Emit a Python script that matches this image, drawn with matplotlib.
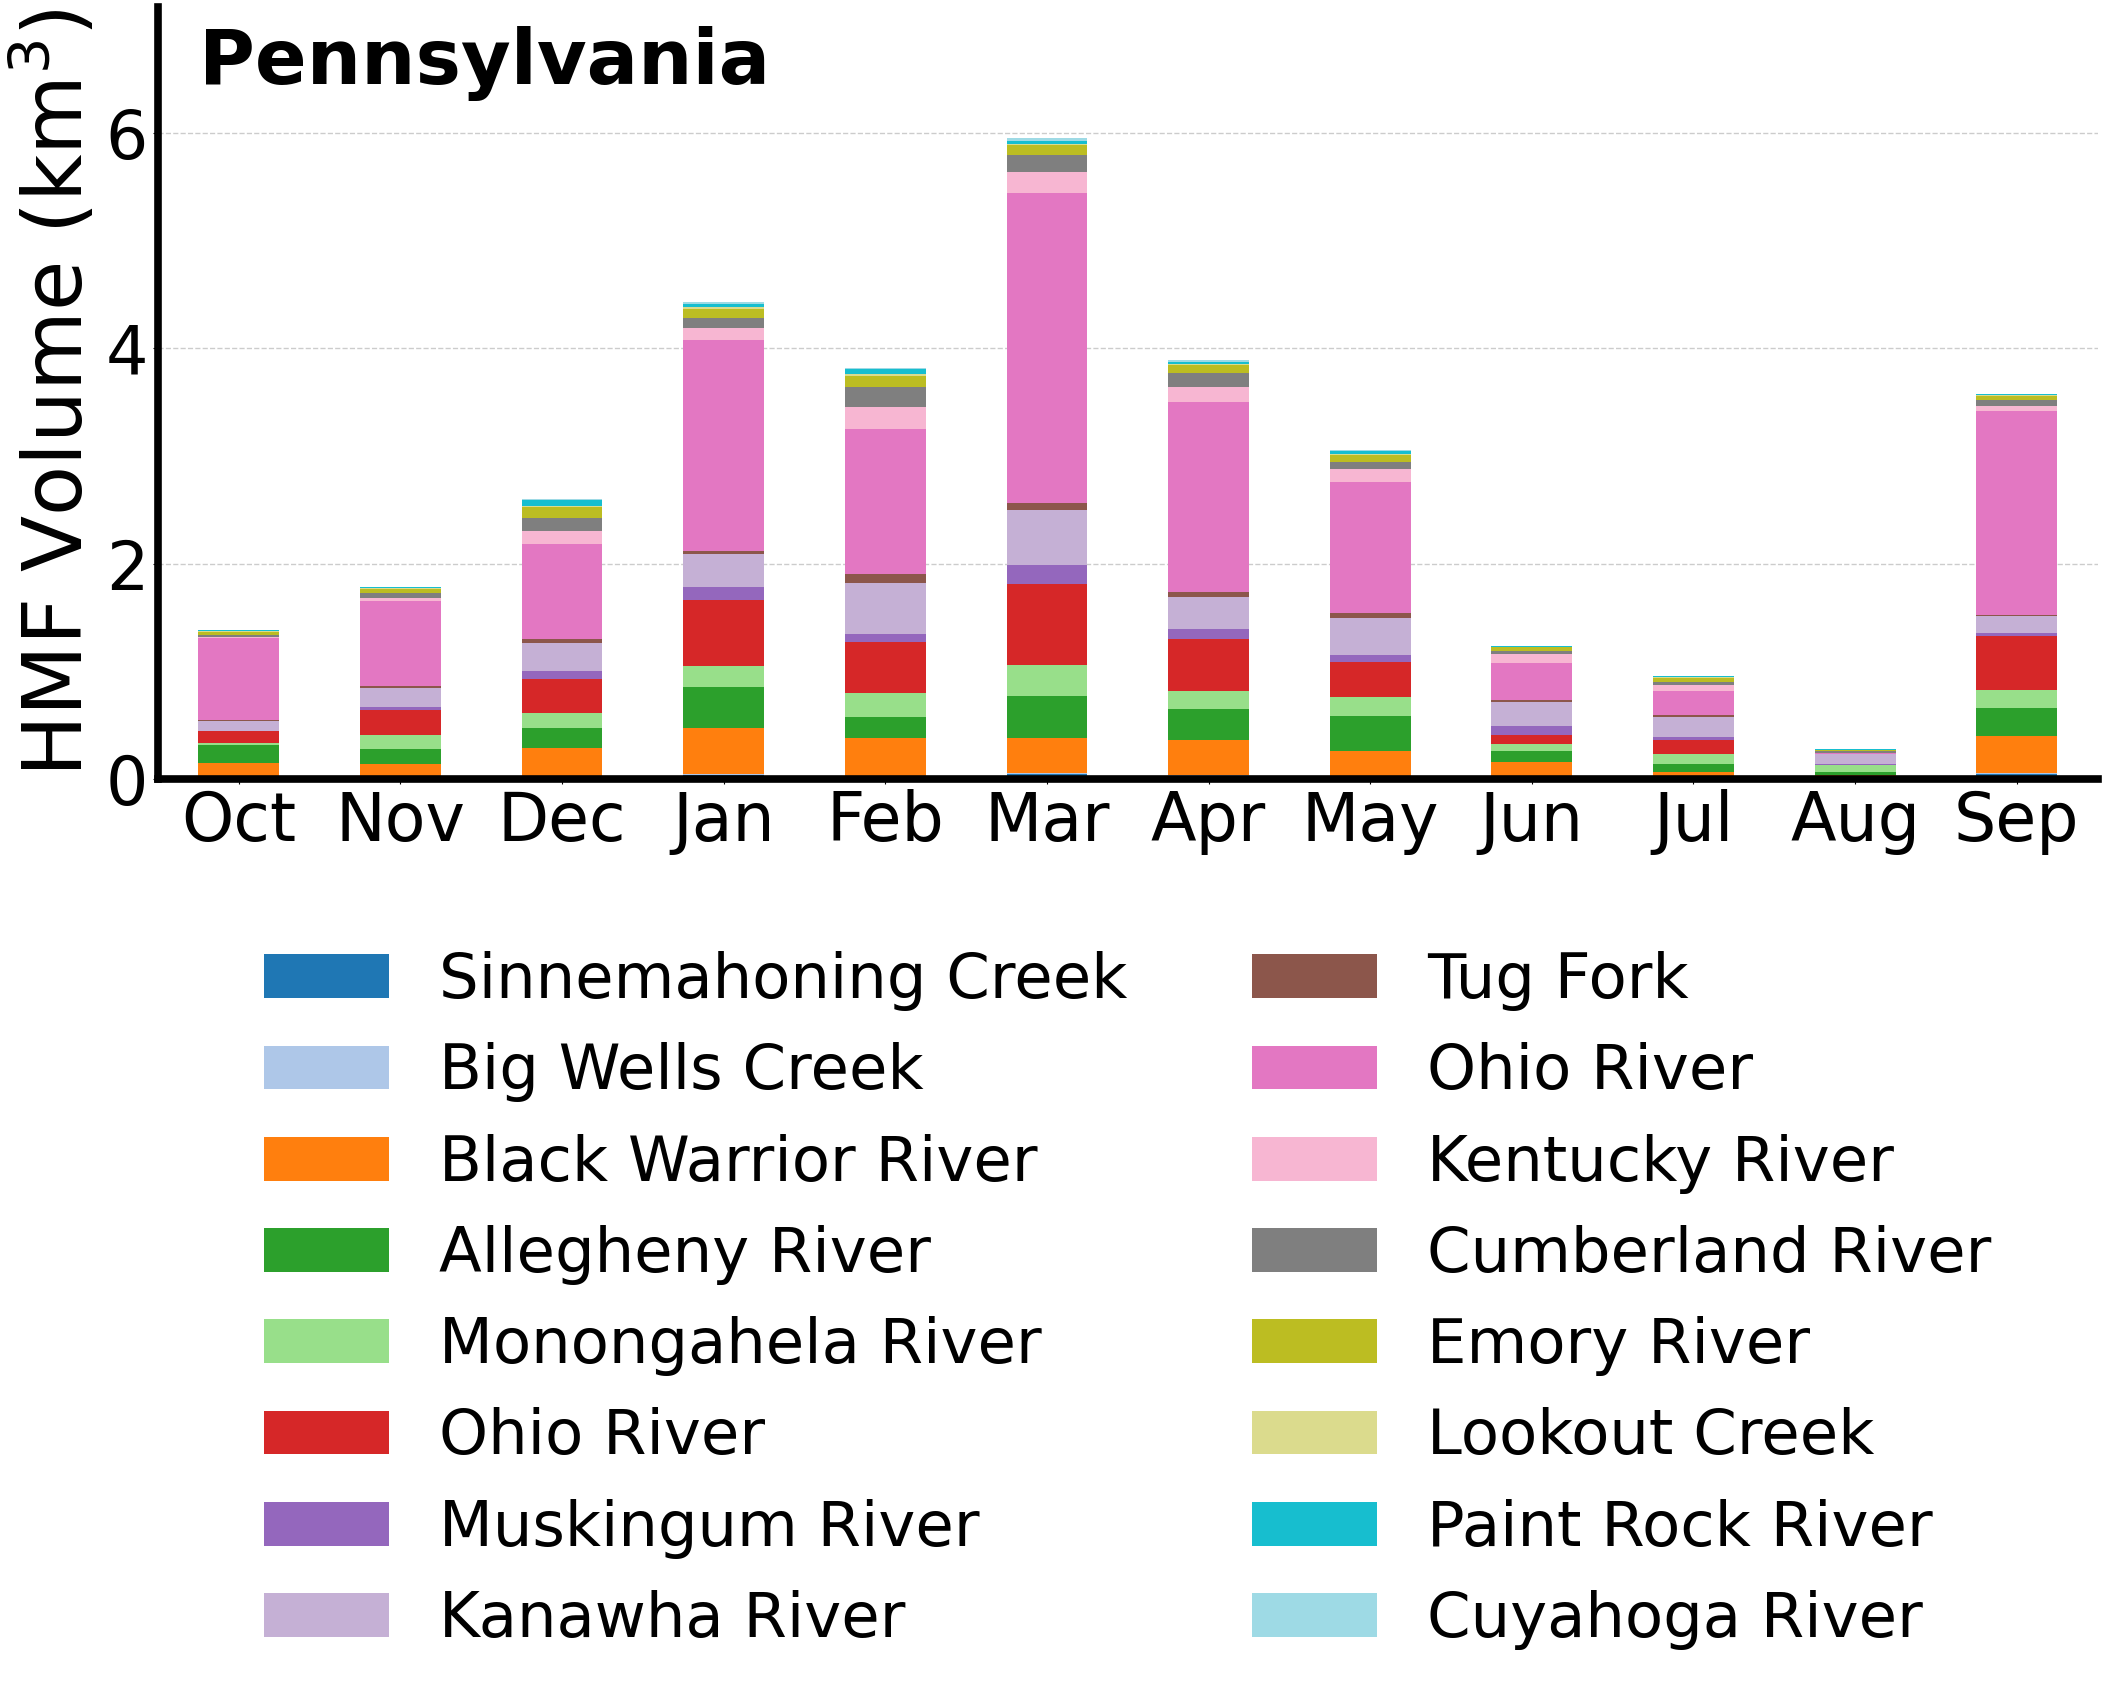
import numpy as np
import matplotlib
matplotlib.use("Agg")
import matplotlib.pyplot as plt

months = ["Oct", "Nov", "Dec", "Jan", "Feb", "Mar", "Apr", "May", "Jun", "Jul", "Aug", "Sep"]

series_names = [
    "Sinnemahoning Creek", "Big Wells Creek", "Black Warrior River", "Allegheny River",
    "Monongahela River", "Ohio River", "Muskingum River", "Kanawha River",
    "Tug Fork", "Ohio River", "Kentucky River", "Cumberland River",
    "Emory River", "Lookout Creek", "Paint Rock River", "Cuyahoga River",
]

sinnemahoning = [0.005, 0.005, 0.010, 0.035, 0.020, 0.050, 0.030, 0.020, 0.010, 0.005, 0.003, 0.050]
big_wells     = [0.002, 0.002, 0.003, 0.010, 0.005, 0.010, 0.005, 0.003, 0.002, 0.001, 0.001, 0.007]
black_warrior = [0.140, 0.130, 0.270, 0.430, 0.360, 0.320, 0.325, 0.240, 0.148, 0.060, 0.035, 0.340]
allegheny     = [0.167, 0.140, 0.186, 0.380, 0.195, 0.390, 0.290, 0.325, 0.100, 0.075, 0.030, 0.260]
monongahela   = [0.019, 0.130, 0.140, 0.195, 0.220, 0.290, 0.170, 0.175, 0.065, 0.093, 0.059, 0.168]
ohio_red      = [0.110, 0.230, 0.316, 0.610, 0.475, 0.750, 0.480, 0.320, 0.084, 0.130, 0.003, 0.500]
muskingum     = [0.005, 0.028, 0.074, 0.120, 0.075, 0.175, 0.090, 0.067, 0.084, 0.028, 0.009, 0.028]
kanawha       = [0.090, 0.176, 0.260, 0.310, 0.465, 0.510, 0.300, 0.340, 0.224, 0.186, 0.090, 0.158]
tug_fork      = [0.010, 0.019, 0.037, 0.030, 0.085, 0.067, 0.046, 0.054, 0.019, 0.019, 0.003, 0.009]
ohio_pink     = [0.760, 0.790, 0.890, 1.960, 1.350, 2.880, 1.760, 1.210, 0.345, 0.224, 0.006, 1.900]
kentucky      = [0.010, 0.028, 0.120, 0.110, 0.205, 0.190, 0.146, 0.120, 0.075, 0.047, 0.006, 0.047]
cumberland    = [0.022, 0.046, 0.120, 0.094, 0.185, 0.160, 0.125, 0.067, 0.028, 0.037, 0.016, 0.056]
emory         = [0.025, 0.040, 0.100, 0.079, 0.100, 0.090, 0.075, 0.067, 0.037, 0.037, 0.006, 0.037]
lookout       = [0.006, 0.006, 0.012, 0.016, 0.019, 0.010, 0.008, 0.008, 0.006, 0.006, 0.002, 0.006]
paint_rock    = [0.009, 0.009, 0.053, 0.035, 0.047, 0.035, 0.025, 0.025, 0.009, 0.009, 0.006, 0.009]
cuyahoga      = [0.003, 0.003, 0.009, 0.019, 0.010, 0.020, 0.012, 0.012, 0.003, 0.003, 0.003, 0.003]

series_values = [
    sinnemahoning, big_wells, black_warrior, allegheny, monongahela, ohio_red,
    muskingum, kanawha, tug_fork, ohio_pink, kentucky, cumberland, emory,
    lookout, paint_rock, cuyahoga,
]

colors = plt.cm.tab20(np.linspace(0, 1, len(series_names)))

fig = plt.figure(figsize=(21.06, 16.85), dpi=100)
ax = fig.add_axes([0.075, 0.5377, 0.921, 0.4583])

x = np.arange(len(months))
bottom = np.zeros(len(months))
handles = []
for name, vals, c in zip(series_names, series_values, colors):
    v = np.array(vals)
    h = ax.bar(x, v, width=0.5, bottom=bottom, color=c, label=name, linewidth=0, zorder=3)
    handles.append(h)
    bottom += v

ax.set_xlim(-0.5, len(months) - 0.5)
ax.set_ylim(0, 7.17)
ax.set_xticks(x)
ax.set_xticklabels(months, fontsize=48)
ax.set_yticks([0, 2, 4, 6])
ax.tick_params(axis="y", labelsize=48)
ax.set_ylabel("HMF Volume (km$^3$)", fontsize=59)

ax.grid(axis="y", linestyle="--", color="#cccccc", linewidth=1.0, zorder=0)
ax.set_axisbelow(True)
for s in ["top", "right"]:
    ax.spines[s].set_visible(False)
for s in ["left", "bottom"]:
    ax.spines[s].set_linewidth(5.5)
    ax.spines[s].set_color("black")
    ax.spines[s].set_zorder(5)

ax.text(0.021, 0.9, "Pennsylvania", transform=ax.transAxes, fontsize=55,
        fontweight="bold", va="baseline", ha="left")

ax.legend(handles=handles, labels=series_names, loc="upper center",
          bbox_to_anchor=(0.5, -0.15), ncol=2, frameon=False, fontsize=45,
          labelspacing=0.5, columnspacing=2.0, handletextpad=0.8)

fig.savefig("out.png", dpi=100)
